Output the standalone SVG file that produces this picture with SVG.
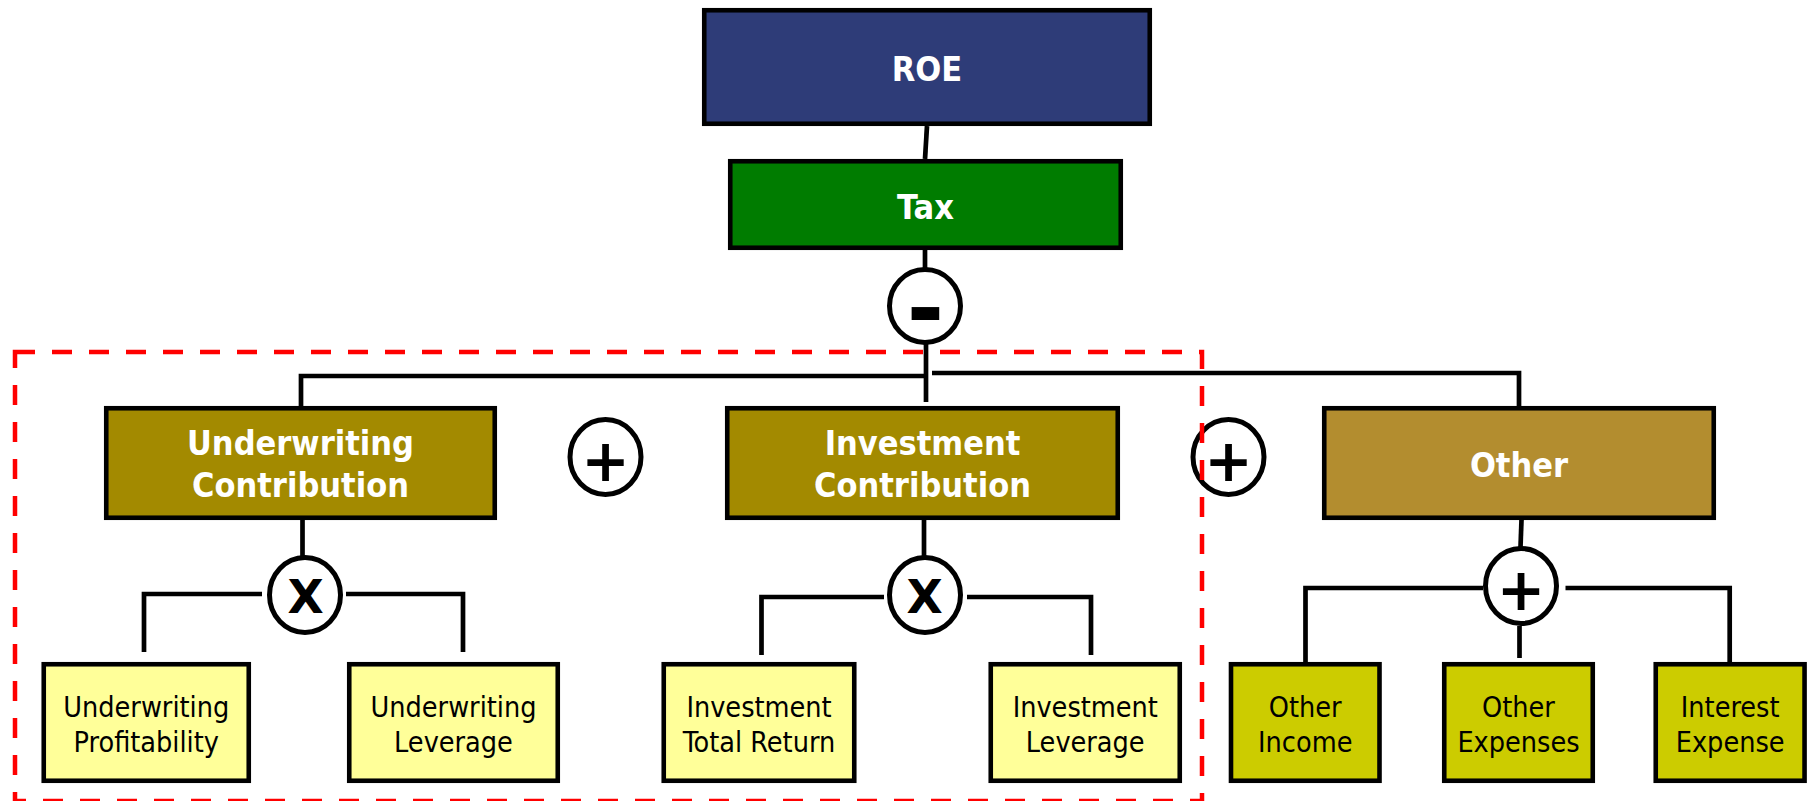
<svg xmlns="http://www.w3.org/2000/svg" width="1808" height="801" viewBox="0 0 1808 801">
<style>
.box{stroke:#000;stroke-width:4.6}
.roe{fill:#2E3C78}
.tax{fill:#007C00}
.contrib{fill:#A38A00}
.other{fill:#B38D2F}
.leaf{fill:#FFFF99}
.leaf2{fill:#CCCC00}
.op{fill:#fff;stroke:#000;stroke-width:5}
.h{font-family:"DejaVu Sans Condensed","DejaVu Sans",sans-serif;font-stretch:condensed;font-weight:bold;font-size:34px;fill:#fff;text-anchor:middle}
.t{font-family:"DejaVu Sans Condensed","DejaVu Sans",sans-serif;font-stretch:condensed;font-size:28.5px;fill:#000;text-anchor:middle}
.sym{font-family:"DejaVu Sans",sans-serif;font-weight:bold;fill:#000;text-anchor:middle}
#connectors path,#connectors line{fill:none;stroke:#000;stroke-width:4.7}
.dash{fill:none;stroke:#FF0000;stroke-width:4.5;stroke-dasharray:20 17}
</style>
<g id="connectors">
<line x1="927" y1="126" x2="925" y2="159"/>
<line x1="925" y1="250" x2="925" y2="269"/>
<line x1="926" y1="343" x2="926" y2="402"/>
<path d="M926,376 H301 V406"/>
<path d="M932,373 H1519 V406"/>
<line x1="302.5" y1="520" x2="302.5" y2="557"/>
<path d="M262,594 H144 V652"/>
<path d="M346,594 H463 V652"/>
<line x1="924" y1="520" x2="924" y2="557"/>
<path d="M884,597 H761.5 V655"/>
<path d="M967,597 H1091 V655"/>
<line x1="1521.5" y1="520" x2="1520.5" y2="547"/>
<path d="M1483,588 H1305.5 V662"/>
<path d="M1565.5,588 H1729.7 V662"/>
<line x1="1519.5" y1="626" x2="1519.5" y2="658"/>
</g>
<g id="roe">
<rect class="box roe" x="704.25" y="10.25" width="445.5" height="113.5"/>
<text class="h" x="927" y="81" font-size="36">ROE</text>
</g>
<g id="tax">
<rect class="box tax" x="730.25" y="161.25" width="390.5" height="86.5"/>
<text class="h" x="925.5" y="219">Tax</text>
</g>
<g id="op-minus">
<ellipse class="op" cx="925" cy="306" rx="35.5" ry="36.5"/>
<text class="sym" x="925.5" y="340" font-size="90">-</text>
</g>
<g id="underwriting-contribution">
<rect class="box contrib" x="106.25" y="408.25" width="388.5" height="109.5"/>
<text class="h" x="300.5" y="455">Underwriting</text>
<text class="h" x="300.5" y="497">Contribution</text>
</g>
<g id="op-plus-1">
<ellipse class="op" cx="605.5" cy="457" rx="35.5" ry="37.5"/>
<text class="sym" x="605.5" y="481" font-size="58">+</text>
</g>
<g id="investment-contribution">
<rect class="box contrib" x="727.25" y="408.25" width="390.5" height="109.5"/>
<text class="h" x="922.5" y="455">Investment</text>
<text class="h" x="922.5" y="497">Contribution</text>
</g>
<g id="op-plus-2">
<ellipse class="op" cx="1228.5" cy="457" rx="35.5" ry="37.5"/>
<text class="sym" x="1228.5" y="481" font-size="58">+</text>
</g>
<g id="other">
<rect class="box other" x="1324.25" y="408.25" width="389.5" height="109.5"/>
<text class="h" x="1519" y="477">Other</text>
</g>
<g id="op-x-1">
<ellipse class="op" cx="305" cy="595" rx="35.5" ry="37.5"/>
<text class="sym" x="305.5" y="613" font-size="47">X</text>
</g>
<g id="op-x-2">
<ellipse class="op" cx="925" cy="595" rx="35.5" ry="37.5"/>
<text class="sym" x="924.5" y="613" font-size="47">X</text>
</g>
<g id="op-plus-3">
<ellipse class="op" cx="1521" cy="586" rx="35.5" ry="37.5"/>
<text class="sym" x="1521" y="610" font-size="58">+</text>
</g>
<g id="underwriting-profitability">
<rect class="box leaf" x="43.75" y="664.25" width="205" height="116.5"/>
<text class="t" x="146.25" y="717">Underwriting</text>
<text class="t" x="146.25" y="752">Profitability</text>
</g>
<g id="underwriting-leverage">
<rect class="box leaf" x="349.25" y="664.25" width="208.5" height="116.5"/>
<text class="t" x="453.5" y="717">Underwriting</text>
<text class="t" x="453.5" y="752">Leverage</text>
</g>
<g id="investment-total-return">
<rect class="box leaf" x="663.75" y="664.25" width="190.5" height="116.5"/>
<text class="t" x="759" y="717">Investment</text>
<text class="t" x="759" y="752">Total Return</text>
</g>
<g id="investment-leverage">
<rect class="box leaf" x="990.75" y="664.25" width="189" height="116.5"/>
<text class="t" x="1085.25" y="717">Investment</text>
<text class="t" x="1085.25" y="752">Leverage</text>
</g>
<g id="other-income">
<rect class="box leaf2" x="1231" y="664.25" width="148.5" height="116.5"/>
<text class="t" x="1305.25" y="717">Other</text>
<text class="t" x="1305.25" y="752">Income</text>
</g>
<g id="other-expenses">
<rect class="box leaf2" x="1444.25" y="664.25" width="148.5" height="116.5"/>
<text class="t" x="1518.5" y="717">Other</text>
<text class="t" x="1518.5" y="752">Expenses</text>
</g>
<g id="interest-expense">
<rect class="box leaf2" x="1655.75" y="664.25" width="148.8" height="116.5"/>
<text class="t" x="1730.15" y="717">Interest</text>
<text class="t" x="1730.15" y="752">Expense</text>
</g>
<g id="group-boundary">
<path class="dash" d="M15,352 H1202 V801 H15 Z"/>
</g>
</svg>
